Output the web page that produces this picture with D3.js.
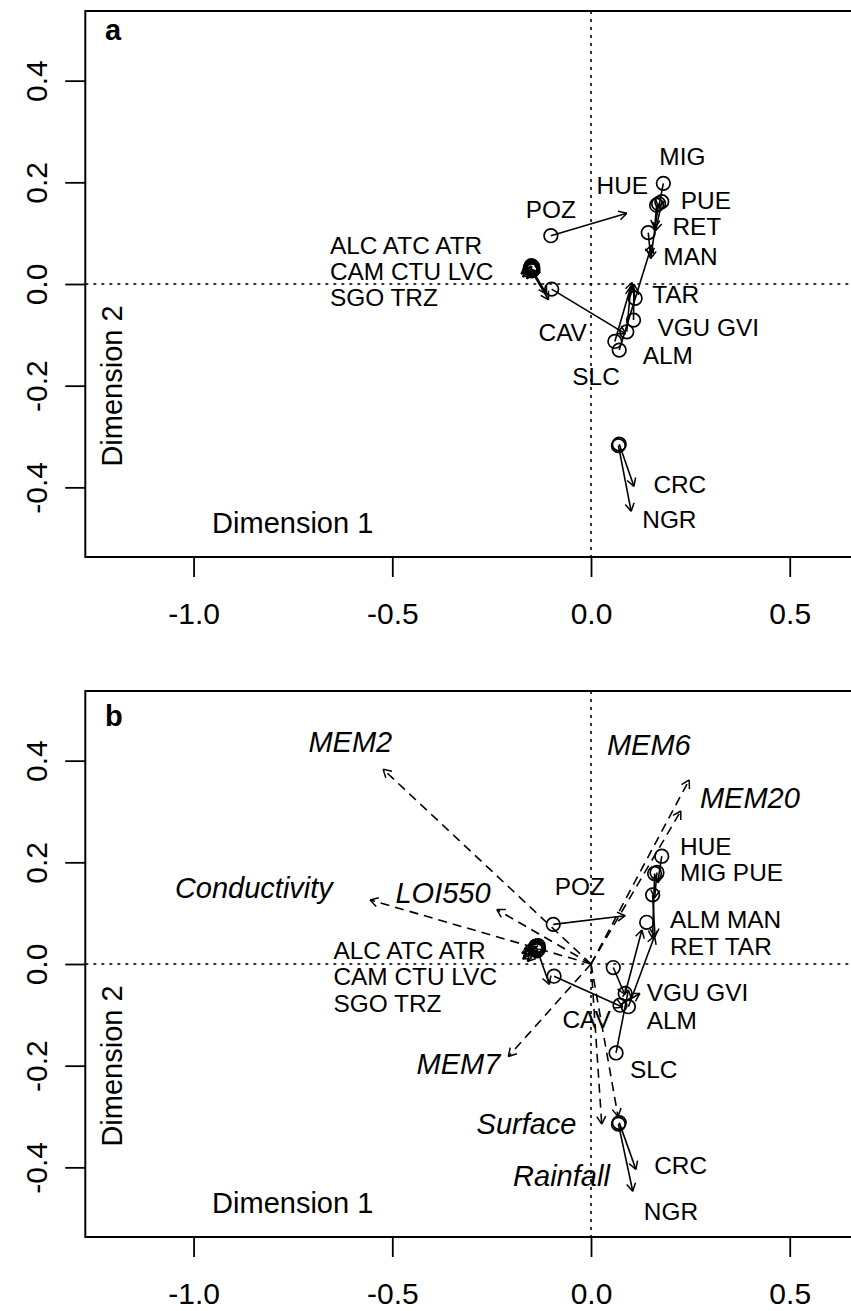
<!DOCTYPE html>
<meta charset="utf-8">
<style>
body { margin:0; background:white; }
svg { display:block; font-family:"Liberation Sans", Arial, Helvetica, sans-serif; }
</style>
<script src="https://d3js.org/d3.v7.min.js"></script>
<div id="chart"></div>
<script>

// axis ticks
var xTicks = [-1.0, -0.5, 0.0, 0.5];
var yTicks = [-0.4, -0.2, 0.0, 0.2, 0.4];

// panel a : procrustes arrows [x0, y0, x1, y1], circle at start
var arrowsA = [
  [-0.101, 0.095, 0.090, 0.139],   // POZ
  [0.182, 0.198, 0.170, 0.150],    // MIG
  [0.178, 0.162, 0.163, 0.105],    // PUE
  [0.170, 0.158, 0.150, 0.050],    // HUE
  [0.165, 0.155, 0.160, 0.110],
  [0.144, 0.101, 0.150, 0.055],    // RET
  [0.071, -0.130, 0.153, 0.077],   // MAN
  [0.111, -0.028, 0.105, -0.008],  // TAR
  [0.107, -0.071, 0.108, 0.000],   // VGU
  [0.090, -0.094, 0.100, -0.005],  // GVI
  [0.060, -0.113, 0.103, 0.003],   // ALM
  [-0.152, 0.033, -0.176, 0.020],  // ALC
  [-0.148, 0.030, -0.172, 0.014],  // ATC
  [-0.150, 0.036, -0.168, 0.026],  // ATR
  [-0.146, 0.028, -0.128, 0.022],  // CAM
  [-0.153, 0.030, -0.107, -0.031], // CTU
  [-0.149, 0.026, -0.162, 0.010],  // LVC
  [-0.151, 0.032, -0.112, -0.020], // SGO
  [-0.147, 0.034, -0.170, 0.030],  // TRZ
  [-0.099, -0.010, 0.087, -0.098], // CAV
  [0.071, -0.315, 0.108, -0.398],  // CRC
  [0.069, -0.318, 0.101, -0.447]   // NGR
];

// panel a labels: text, left x, centre y
var labelsA = [
  ["MIG", 0.172, 0.250], ["HUE", 0.014, 0.193], ["PUE", 0.226, 0.165],
  ["POZ", -0.164, 0.147], ["RET", 0.205, 0.114], ["MAN", 0.182, 0.055],
  ["ALC ATC ATR", -0.657, 0.075], ["CAM CTU LVC", -0.657, 0.024], ["SGO TRZ", -0.657, -0.026],
  ["TAR", 0.154, -0.020], ["VGU GVI", 0.167, -0.086], ["CAV", -0.132, -0.096],
  ["ALM", 0.130, -0.140], ["SLC", -0.047, -0.182], ["CRC", 0.157, -0.395], ["NGR", 0.129, -0.464]
];

// panel b : procrustes arrows
var arrowsB = [
  [-0.095, 0.078, 0.086, 0.095],   // POZ
  [0.178, 0.212, 0.168, 0.160],    // HUE
  [0.166, 0.180, 0.160, 0.130],    // MIG
  [0.160, 0.178, 0.155, 0.050],    // PUE
  [0.155, 0.136, 0.161, 0.054],    // RET
  [0.086, -0.058, 0.128, 0.067],   // VGU
  [0.094, -0.084, 0.160, 0.055],   // GVI
  [0.073, -0.081, 0.123, -0.058],  // ALM
  [0.140, 0.082, 0.140, 0.082],    // MAN
  [0.056, -0.007, 0.085, -0.060],  // TAR
  [0.063, -0.175, 0.094, -0.051],  // SLC
  [-0.093, -0.024, 0.080, -0.085], // CAV
  [-0.133, 0.036, -0.174, 0.021],  // ALC
  [-0.137, 0.032, -0.170, 0.015],  // ATC
  [-0.140, 0.030, -0.165, 0.026],  // ATR
  [-0.135, 0.028, -0.172, 0.010],  // CAM
  [-0.138, 0.034, -0.105, -0.040], // CTU
  [-0.132, 0.030, -0.160, 0.005],  // LVC
  [-0.136, 0.026, -0.150, 0.020],  // SGO
  [-0.139, 0.035, -0.168, 0.030],  // TRZ
  [0.071, -0.312, 0.113, -0.404],  // CRC
  [0.069, -0.315, 0.105, -0.447]   // NGR
];

var labelsB = [
  ["HUE", 0.224, 0.232], ["MIG PUE", 0.224, 0.180], ["POZ", -0.091, 0.152],
  ["ALM MAN", 0.199, 0.087], ["RET TAR", 0.199, 0.034],
  ["ALC ATC ATR", -0.648, 0.026], ["CAM CTU LVC", -0.648, -0.025], ["SGO TRZ", -0.648, -0.078],
  ["VGU GVI", 0.140, -0.055], ["CAV", -0.072, -0.109], ["ALM", 0.140, -0.112],
  ["SLC", 0.098, -0.208], ["CRC", 0.159, -0.397], ["NGR", 0.133, -0.486]
];

// panel b : fitted environmental vectors (from origin)
var envNames = ["MEM2", "MEM6", "MEM20", "LOI550", "Conductivity", "MEM7", "Surface", "Rainfall"];
var envX = [-0.523, 0.247, 0.226, -0.237, -0.556, -0.208, 0.027, 0.068];
var envY = [0.383, 0.362, 0.301, 0.107, 0.126, -0.182, -0.315, -0.300];
var envLabelX = [-0.711, 0.040, 0.274, -0.492, -1.047, -0.439, -0.288, -0.196];
var envLabelY = [0.437, 0.431, 0.327, 0.140, 0.150, -0.196, -0.315, -0.417];

var svg = d3.select("#chart").append("svg")
    .attr("width", 851)
    .attr("height", 1311);

var x = d3.scaleLinear().domain([-1.2725, 0.6625]).range([85.3, 854.3]);
var fmt = function(d) { return d.toFixed(1); };

function arrow(g, x0, y0, x1, y1, dash) {
  var len = Math.hypot(x1 - x0, y1 - y0);
  g.append("line")
    .attr("x1", x0).attr("y1", y0).attr("x2", x1).attr("y2", y1)
    .attr("stroke", "black").attr("stroke-width", 1.6)
    .attr("stroke-dasharray", dash ? "9,6" : null);
  if (len < 2) return;
  var a = Math.atan2(y1 - y0, x1 - x0), h = 9, sp = Math.PI / 6;
  [a + Math.PI - sp, a + Math.PI + sp].forEach(function(b) {
    g.append("line")
      .attr("x1", x1).attr("y1", y1)
      .attr("x2", x1 + h * Math.cos(b)).attr("y2", y1 + h * Math.sin(b))
      .attr("stroke", "black").attr("stroke-width", 1.5);
  });
}

function panel(top, letter, letterY, arrows, labels, env) {
  var bottom = top + 546;
  var y = d3.scaleLinear().domain([-0.537, 0.537]).range([bottom, top]);
  var g = svg.append("g");

  // reference lines
  g.append("line").attr("x1", x(0)).attr("x2", x(0)).attr("y1", top).attr("y2", bottom)
    .attr("stroke", "black").attr("stroke-width", 1.6).attr("stroke-dasharray", "3,5");
  g.append("line").attr("x1", 85.3).attr("x2", 860).attr("y1", y(0)).attr("y2", y(0))
    .attr("stroke", "black").attr("stroke-width", 1.6).attr("stroke-dasharray", "3,5");

  // env vectors
  if (env) {
    envNames.forEach(function(n, i) {
      arrow(g, x(0), y(0), x(envX[i]), y(envY[i]), true);
      g.append("text")
        .attr("x", x(envLabelX[i])).attr("y", y(envLabelY[i])).attr("dy", "0.35em")
        .attr("font-size", 29).attr("font-style", "italic")
        .text(n);
    });
  }

  // procrustes arrows + circles
  arrows.forEach(function(d) {
    arrow(g, x(d[0]), y(d[1]), x(d[2]), y(d[3]), false);
  });
  g.selectAll("circle").data(arrows).enter().append("circle")
    .attr("cx", function(d) { return x(d[0]); })
    .attr("cy", function(d) { return y(d[1]); })
    .attr("r", 6.8)
    .attr("fill", "none").attr("stroke", "black").attr("stroke-width", 1.7);

  g.selectAll("text.site").data(labels).enter().append("text")
    .attr("class", "site")
    .attr("x", function(d) { return x(d[1]); })
    .attr("y", function(d) { return y(d[2]); })
    .attr("dy", "0.35em")
    .attr("font-size", 24.4)
    .text(function(d) { return d[0]; });

  // box (right side falls outside the picture)
  g.append("rect").attr("x", 85.3).attr("y", top).attr("width", 800).attr("height", 546)
    .attr("fill", "none").attr("stroke", "black").attr("stroke-width", 2);

  // axes
  var ya = g.append("g").attr("transform", "translate(85.3,0)")
    .call(d3.axisLeft(y).tickValues(yTicks).tickSize(20).tickFormat(fmt))
    .attr("font-family", null).attr("font-size", null);
  ya.select(".domain").remove();
  ya.selectAll("line").attr("stroke-width", 1.8);
  ya.selectAll("text").attr("x", 0).attr("dy", 0)
    .attr("transform", "translate(-38,0) rotate(-90)")
    .attr("text-anchor", "middle")
    .attr("font-size", 30).attr("fill", "black");

  var xa = g.append("g").attr("transform", "translate(0," + bottom + ")")
    .call(d3.axisBottom(x).tickValues(xTicks).tickSize(20).tickFormat(fmt))
    .attr("font-family", null).attr("font-size", null);
  xa.select(".domain").remove();
  xa.selectAll("line").attr("stroke-width", 1.8);
  xa.selectAll("text").attr("y", 67).attr("dy", 0)
    .attr("font-size", 30).attr("fill", "black");

  // titles
  g.append("text").attr("x", 292.7).attr("y", top + 522).attr("text-anchor", "middle")
    .attr("font-size", 29).text("Dimension 1");
  g.append("text").attr("transform", "translate(122," + (top + 375) + ") rotate(-90)")
    .attr("text-anchor", "middle").attr("font-size", 29).text("Dimension 2");
  g.append("text").attr("x", 105).attr("y", top + letterY)
    .attr("font-size", 29).attr("font-weight", "bold").text(letter);
}

panel(11, "a", 29, arrowsA, labelsA, false);
panel(691, "b", 35, arrowsB, labelsB, true);

</script>
